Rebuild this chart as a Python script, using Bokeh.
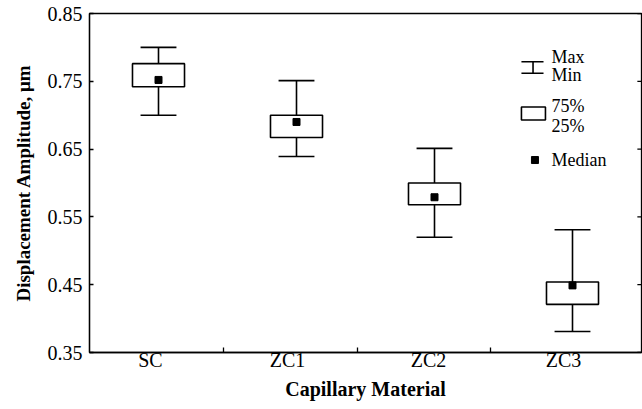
from bokeh.plotting import figure
from bokeh.models import (ColumnDataSource, FixedTicker, Range1d, Label,
                          CustomJSTickFormatter, PrintfTickFormatter)
from bokeh.embed import file_html
from bokeh.resources import INLINE

# ---------------- data ----------------
categories = ["SC", "ZC1", "ZC2", "ZC3"]
x_pos = [1, 2, 3, 4]
max_vals = [0.800, 0.751, 0.651, 0.531]
q75_vals = [0.776, 0.700, 0.600, 0.454]
median_vals = [0.752, 0.690, 0.579, 0.449]
q25_vals = [0.742, 0.667, 0.568, 0.421]
min_vals = [0.700, 0.639, 0.520, 0.381]
y_ticks = [0.35, 0.45, 0.55, 0.65, 0.75, 0.85]
x_label_pos = [0.942, 1.935, 2.957, 3.935]
x_minor_ticks = [1.471, 2.442, 3.406]
legend_texts = ["Max", "Min", "75%", "25%", "Median"]

# ---------------- style ----------------
FONT = "Liberation Serif"
BOX_W = 0.377
CAP_W = 0.26
LW = 1.6
X_MIN, X_MAX = 0.5, 4.5
RTICK = 0.03  # right-side inward tick length (data units)
legend_text_y = [0.7864, 0.7594, 0.7137, 0.6847, 0.6341]

src = ColumnDataSource(dict(
    x=x_pos, mx=max_vals, q75=q75_vals, med=median_vals, q25=q25_vals, mn=min_vals,
    cl=[v - CAP_W / 2 for v in x_pos], cr=[v + CAP_W / 2 for v in x_pos],
))

p = figure(width=642, height=409, x_range=Range1d(X_MIN, X_MAX), y_range=Range1d(0.35, 0.85),
           output_backend="svg", toolbar_location=None,
           min_border_left=89, min_border_right=1, min_border_top=13, min_border_bottom=57)
p.xgrid.visible = False
p.ygrid.visible = False
p.outline_line_color = "black"
p.outline_line_width = 1.3
p.background_fill_color = "white"
p.border_fill_color = "white"

# right-side inward ticks
p.segment(x0=[X_MAX - RTICK] * len(y_ticks), y0=y_ticks, x1=[X_MAX] * len(y_ticks), y1=y_ticks,
          line_color="black", line_width=1.3)

# whiskers
p.segment(x0="x", y0="q75", x1="x", y1="mx", source=src, line_color="black", line_width=LW)
p.segment(x0="x", y0="mn", x1="x", y1="q25", source=src, line_color="black", line_width=LW)
p.segment(x0="cl", y0="mx", x1="cr", y1="mx", source=src, line_color="black", line_width=LW)
p.segment(x0="cl", y0="mn", x1="cr", y1="mn", source=src, line_color="black", line_width=LW)
# boxes
p.vbar(x="x", width=BOX_W, top="q75", bottom="q25", source=src,
       fill_color="white", line_color="black", line_width=LW)
# medians
p.scatter(x="x", y="med", source=src, marker="square", size=7,
          fill_color="black", line_color="black")

# ---------------- legend (layout in data coords) ----------------
lg_x0, lg_x1, lg_xm = 3.630, 3.790, 3.714
p.segment(x0=[lg_x0, lg_x0, lg_xm], y0=[0.7789, 0.7618, 0.7618],
          x1=[lg_x1, lg_x1, lg_xm], y1=[0.7789, 0.7618, 0.7789],
          line_color="black", line_width=LW)
p.quad(left=[3.630], right=[3.804], top=[0.7121], bottom=[0.6929],
       fill_color="white", line_color="black", line_width=LW)
p.scatter(x=[3.728], y=[0.6339], marker="square", size=7, fill_color="black", line_color="black")
for txt, yy in zip(legend_texts, legend_text_y):
    p.add_layout(Label(x=3.848, y=yy, text=txt, text_font=FONT, text_font_size="18px",
                       text_baseline="alphabetic", text_color="black"))

# ---------------- axes ----------------
xa = p.xaxis[0]
xa.ticker = FixedTicker(ticks=x_label_pos, minor_ticks=x_minor_ticks)
xa.formatter = CustomJSTickFormatter(args=dict(labels=categories), code="return labels[index];")
xa.major_tick_in = 0
xa.major_tick_out = 0
xa.minor_tick_in = 5
xa.minor_tick_out = 0
xa.minor_tick_line_width = 1.3
xa.axis_line_width = 1.3
xa.major_label_text_font = FONT
xa.major_label_text_font_size = "20px"
xa.major_label_text_color = "black"
xa.major_label_standoff = -4
xa.axis_label = "Capillary Material"
xa.axis_label_text_font = FONT
xa.axis_label_text_font_style = "bold"
xa.axis_label_text_font_size = "20px"
xa.axis_label_text_color = "black"
xa.axis_label_standoff = 4

ya = p.yaxis[0]
ya.ticker = FixedTicker(ticks=y_ticks, minor_ticks=[])
ya.formatter = PrintfTickFormatter(format="%.2f")
ya.major_tick_in = 4
ya.major_tick_out = 0
ya.major_tick_line_width = 1.3
ya.axis_line_width = 1.3
ya.major_label_text_font = FONT
ya.major_label_text_font_size = "20px"
ya.major_label_text_color = "black"
ya.major_label_standoff = 7
ya.axis_label = "Displacement Amplitude, \u03bcm"
ya.axis_label_text_font = FONT
ya.axis_label_text_font_style = "bold"
ya.axis_label_text_font_size = "19px"
ya.axis_label_text_color = "black"
ya.axis_label_standoff = 11

open("out.html", "w").write(file_html(p, INLINE))
